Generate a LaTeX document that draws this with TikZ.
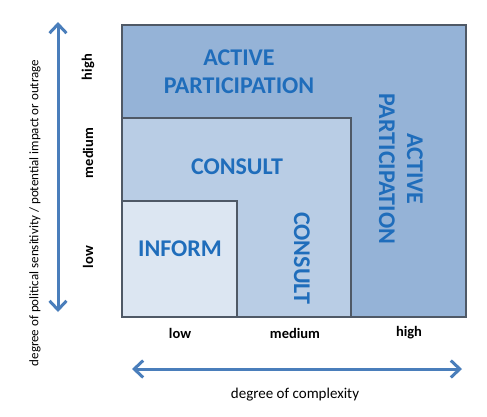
\documentclass[tikz,border=0pt]{standalone}
\usepackage{fontspec}
\setmainfont{Carlito}
\usetikzlibrary{arrows.meta}
\definecolor{outerc}{HTML}{95B3D7}
\definecolor{midc}{HTML}{B9CDE5}
\definecolor{innerc}{HTML}{DCE6F2}
\definecolor{labc}{HTML}{1F6DBB}
\definecolor{arrc}{HTML}{4A7EBB}
\definecolor{edgec}{HTML}{4F5966}
\tikzset{
  zone/.style={draw=edgec, line width=1.1pt},
  biglab/.style={text=labc, font=\fontsize{24}{28}\selectfont\bfseries, align=center, inner sep=0pt},
  ticklab/.style={font=\fontsize{14.5}{16}\selectfont\bfseries, inner sep=0pt},
  axislab/.style={font=\fontsize{13}{15}\selectfont, inner sep=0pt},
  axisarrow/.style={draw=arrc, line width=3pt, {Straight Barb[length=9pt,width=17pt,line width=3pt]}-{Straight Barb[length=9pt,width=17pt,line width=3pt]}}
}
\begin{document}
\begin{tikzpicture}[x=1pt,y=-1pt]
\useasboundingbox[fill=white] (0,0) rectangle (487,416);
% zones
\draw[zone, fill=outerc] (122,25) rectangle (466,317);
\draw[zone, fill=midc] (122,118) rectangle (351,317);
\draw[zone, fill=innerc] (122,201) rectangle (237,317);
% zone labels
\node[biglab] (ap1) at (239,72) {ACTIVE\\PARTICIPATION};
\node[biglab, rotate=-90] (ap2) at (401,169) {ACTIVE\\PARTICIPATION};
\node[biglab] (co1) at (237,167) {CONSULT};
\node[biglab, rotate=-90] (co2) at (302,258) {CONSULT};
\node[biglab] (inf) at (180,249) {INFORM};
% tick labels
\node[ticklab, rotate=90] (yh) at (88,67) {high};
\node[ticklab, rotate=90] (ym) at (88,153) {medium};
\node[ticklab, rotate=90] (yl) at (88,257) {low};
\node[ticklab] (xl) at (180,333) {low};
\node[ticklab] (xm) at (295,333) {medium};
\node[ticklab] (xh) at (409,333) {high};
% axes
\coordinate (ytop) at (58,22);
\coordinate (ybot) at (58,312);
\coordinate (xleft) at (132,369);
\coordinate (xright) at (462,369);
\draw[axisarrow] (ybot) -- (ytop);
\draw[axisarrow] (xleft) -- (xright);
\node[axislab, rotate=90] (ylab) at (35,213) {degree of political sensitivity / potential impact or outrage};
\node[axislab, font=\fontsize{15}{17}\selectfont] (xlab) at (295,395) {degree of complexity};
\end{tikzpicture}
\end{document}
